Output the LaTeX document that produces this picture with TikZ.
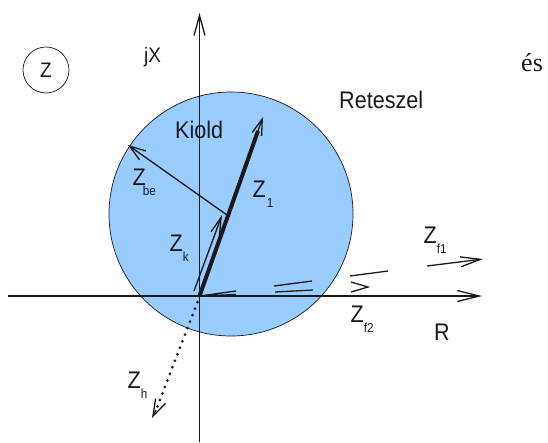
\documentclass[tikz,border=0pt]{standalone}
\usepackage{fontspec}
\setmainfont{Liberation Sans}[FakeStretch=0.9]
\newfontfamily\esfont{Liberation Serif}
\usetikzlibrary{arrows.meta}
\definecolor{circfill}{RGB}{153,204,255}
\definecolor{ink}{RGB}{25,25,25}
\newcommand\zsub[1]{\raisebox{-10pt}{\fontsize{13}{13}\selectfont #1}}
\begin{document}
\begin{tikzpicture}[x=1pt,y=-1pt,
  lbl/.style={anchor=base west, inner sep=0pt, text=ink, font=\fontsize{24}{24}\selectfont},
  ln/.style={line width=1.3pt, draw=ink},
  head/.style args={#1/#2}{-{Straight Barb[length=#1pt,width=#2pt,line width=1.3pt]}}]
\useasboundingbox (0,0) rectangle (548,442);
% circle
\node[circle, draw=ink, line width=0.7pt, fill=circfill, minimum size=244pt, inner sep=0pt] (circ) at (231,214) {};
% coordinates
\coordinate (O) at (199.5,296);
\coordinate (xl) at (8,296);
\coordinate (xr) at (482,296);
\coordinate (yb) at (199.5,442);
\coordinate (yt) at (199.5,13);
% axes
\draw[ln, head=22/11] (xl) -- (xr);
\draw[ln, head=20/11] (yb) -- (yt);
% Z1
\coordinate (z1e) at (258,131);
\coordinate (z1t) at (263,117);
\draw[draw=ink, line width=4pt] (O) -- (z1e);
\draw[ln, head=16/10] (z1e) -- (z1t);
% Zbe
\coordinate (zbs) at (227,215);
\coordinate (zbt) at (128,145);
\draw[ln, head=16/11] (zbs) -- (zbt);
% Zk
\coordinate (zks) at (194,291);
\coordinate (zkt) at (222,215);
\draw[ln, head=17/9] (zks) -- (zkt);
% small wedge at origin
\coordinate (w1) at (236,291);
\coordinate (w2) at (236,294.5);
\draw[ln] (w1) -- (O) -- (w2);
% double line
\coordinate (d1a) at (274,286); \coordinate (d1b) at (312,281);
\coordinate (d2a) at (275,292); \coordinate (d2b) at (313,290);
\draw[ln] (d1a) -- (d1b);
\draw[ln] (d2a) -- (d2b);
% segment and > mark
\coordinate (s1) at (350,276); \coordinate (s2) at (388,271);
\draw[ln] (s1) -- (s2);
\coordinate (g1) at (351,282); \coordinate (g2) at (368,287); \coordinate (g3) at (351,292);
\draw[ln] (g1) -- (g2) -- (g3);
% Zf1
\coordinate (f1s) at (427,266); \coordinate (f1t) at (483,259);
\draw[ln, head=20/10] (f1s) -- (f1t);
% Zh dotted
\coordinate (hs) at (197.5,302); \coordinate (he) at (156,410); \coordinate (ht) at (152,418);
\draw[draw=ink, line width=3pt, line cap=round, dash pattern=on 0pt off 7pt] (hs) -- (he);
\draw[ln, head=17/11] (he) -- (ht);
% labels
\node[circle, draw=ink, line width=0.7pt, minimum size=46pt, inner sep=0pt, text=ink, font=\fontsize{21}{21}\selectfont] (zc) at (46,70) {Z};
\node[lbl, font=\fontsize{21}{21}\selectfont] (jx) at (144,62) {jX};
\node[lbl, font=\fontsize{26}{26}\esfont] (es) at (521,71) {és};
\node[lbl] (ret) at (339,108) {Reteszel};
\node[lbl] (kio) at (175,138) {Kiold};
\node[lbl] (lbe) at (132.5,185) {Z\kern-3pt\zsub{be}};
\node[lbl] (l1) at (252.5,197) {Z\kern1pt\zsub{1}};
\node[lbl] (lk) at (169.5,251) {Z\zsub{k}};
\node[lbl] (lf1) at (423.5,243) {Z\zsub{f1}};
\node[lbl] (lf2) at (350.5,322) {Z\zsub{f2}};
\node[lbl] (lh) at (127.5,388) {Z\zsub{h}};
\node[lbl] (lr) at (434,340) {R};
\end{tikzpicture}
\end{document}
